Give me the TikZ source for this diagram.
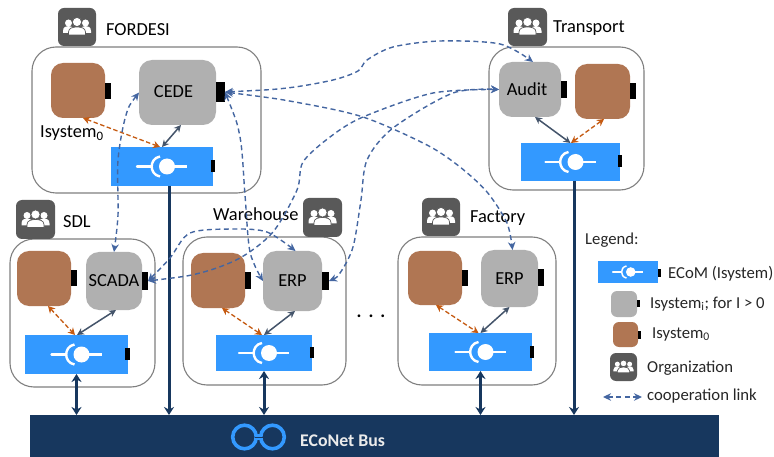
\documentclass[tikz,border=0pt]{standalone}
\usepackage{fontspec}
\setmainfont{Carlito}
\usetikzlibrary{arrows.meta}
\definecolor{brownsys}{HTML}{B07653}
\definecolor{greysys}{HTML}{B0B0B0}
\definecolor{ecomblue}{HTML}{3399FF}
\definecolor{busnavy}{HTML}{17375E}
\definecolor{innerdark}{HTML}{44546A}
\definecolor{orangelink}{HTML}{C55A11}
\definecolor{cooplink}{HTML}{2F5597}
\definecolor{orggrey}{HTML}{595959}
\definecolor{orgline}{HTML}{7F7F7F}
\newcommand{\mainsize}{\fontsize{18.4}{20}\selectfont}
\newcommand{\legsize}{\fontsize{16.7}{18}\selectfont}
\newcommand{\placebox}[7]{%
  \pgfmathsetmacro{\cxv}{(#3+#5)/2}\pgfmathsetmacro{\cyv}{(#4+#6)/2}%
  \pgfmathsetmacro{\wv}{#5-#3}\pgfmathsetmacro{\hv}{#6-#4}%
  \node[#2,minimum width=\wv pt,minimum height=\hv pt] (#1) at (\cxv,\cyv) {#7};}
\tikzset{
  x=1pt,y=-1pt,
  base/.style={inner sep=0pt,outer sep=0pt,font=\mainsize},
  orgbox/.style={base,draw=orgline,line width=1.1pt,rounded corners=24pt,fill=white},
  brownbox/.style={base,fill=brownsys,rounded corners=12pt},
  greybox/.style={base,fill=greysys,rounded corners=13pt},
  ecombox/.style={base,fill=ecomblue},
  portbox/.style={base,fill=black},
  orgicon/.style={base,fill=orggrey,rounded corners=6pt},
  caption/.style={inner sep=0pt,font=\mainsize,anchor=base west},
  legcap/.style={inner sep=0pt,font=\legsize,anchor=base west,text=black!85},
  buslink/.style={line width=3pt,draw=busnavy,{Stealth[length=8pt,width=10pt]}-{Stealth[length=8pt,width=10pt]}},
  busdown/.style={line width=3pt,draw=busnavy,-{Stealth[length=8pt,width=10pt]}},
  innerlink/.style={line width=1.5pt,draw=innerdark,{Stealth[length=7pt,width=7pt]}-{Stealth[length=7pt,width=7pt]}},
  orangedash/.style={line width=1.3pt,draw=orangelink,dash pattern=on 4.5pt off 2.5pt,{Stealth[length=7pt,width=7.5pt]}-{Stealth[length=7pt,width=7.5pt]}},
  cooplnk/.style={line width=1.4pt,draw=cooplink!90!white,dash pattern=on 5pt off 3.5pt,{Stealth[length=8pt,width=7.5pt]}-{Stealth[length=8pt,width=7.5pt]}},
  ecomglyph/.pic={
    \draw[white,line cap=round] (-25,0) -- (-10.3,0);
    \draw[white] (-2,-10) .. controls (-8,-9) and (-10.3,-4) .. (-10.3,0) .. controls (-10.3,4) and (-8,9) .. (-2,10);
    \draw[white] (5,0) -- (25,0);
    \fill[white] (5,0) circle (8);
  },
  peopleglyph/.pic={
    \fill[white] (-8.5,-4) circle (3.5);
    \fill[white] (8.5,-4) circle (3.5);
    \fill[white] (-14,6) -- (-14,4) .. controls (-14,0) and (-11,-1) .. (-8.5,-1) .. controls (-6,-1) and (-3,0) .. (-3,4) -- (-3,6) -- cycle;
    \fill[white] (14,6) -- (14,4) .. controls (14,0) and (11,-1) .. (8.5,-1) .. controls (6,-1) and (3,0) .. (3,4) -- (3,6) -- cycle;
    \draw[orggrey,fill=white,line width=.7pt] (0,-5) circle (4.6);
    \draw[orggrey,fill=white,line width=.7pt] (-8.5,8) -- (-8.5,5) .. controls (-8.5,1) and (-4,0) .. (0,0) .. controls (4,0) and (8.5,1) .. (8.5,5) -- (8.5,8) -- cycle;
  },
}
\begin{document}
\begin{tikzpicture}
\useasboundingbox (0,0) rectangle (774,457);
% bus
\placebox{bus}{base,fill=busnavy}{30}{415}{719}{457}{}
\draw[ecomblue,line width=3.6pt] (244.5,437) circle (11.8) (272.5,437) circle (11.8);
\fill[ecomblue] (255,434) rectangle (262,440);
\draw[busnavy,line width=.8pt] (254.5,437) -- (262.5,437);
\node[inner sep=0pt,anchor=base west,text=white!92!black,font=\fontsize{17.8}{20}\selectfont\bfseries] (busText) at (300,446) {ECoNet Bus};
% organisation boxes
\placebox{fBox}{orgbox}{32}{47}{261}{193}{}
\placebox{sBox}{orgbox}{10}{239}{155}{387}{}
\placebox{wBox}{orgbox}{183}{237}{346}{385}{}
\placebox{xBox}{orgbox}{398}{237}{556}{385}{}
\placebox{tBox}{orgbox}{489}{47}{644}{190}{}
% organisation icons
\placebox{fOrg}{orgicon}{58}{8}{96}{46}{}
\placebox{sOrg}{orgicon}{16}{200}{55}{239}{}
\placebox{wOrg}{orgicon}{303}{198}{342}{237}{}
\placebox{xOrg}{orgicon}{422}{198}{460}{236}{}
\placebox{tOrg}{orgicon}{508}{8}{547}{46}{}
\pic at (fOrg.center) {peopleglyph};
\pic at (sOrg.center) {peopleglyph};
\pic at (wOrg.center) {peopleglyph};
\pic at (xOrg.center) {peopleglyph};
\pic at (tOrg.center) {peopleglyph};
% org captions
\node[caption] (fCap) at (106,36) {FORDESI};
\node[caption] (sCap) at (63,228) {SDL};
\node[caption] (wCap) at (213,221) {Warehouse};
\node[caption] (xCap) at (470,223) {Factory};
\node[caption] (tCap) at (553,33) {Transport};
\node[caption] (isysCap) at (40,138) {Isystem\textsubscript{0}};
\node[inner sep=0pt,font=\mainsize\bfseries,anchor=base] (dotsCap) at (371,317) {.\hspace{7pt}.\hspace{7pt}.};
% FORDESI
\placebox{fBrown}{brownbox}{51}{63}{105}{118}{}
\placebox{fBrownP}{portbox}{105}{83}{111}{99}{}
\placebox{fCede}{greybox}{139}{60}{216}{125}{\raisebox{1.5pt}{CEDE\hspace{8pt}}}
\placebox{fCedeP}{portbox}{216}{82}{225}{102}{}
\placebox{fEcom}{ecombox}{111}{147}{213}{186}{}
\placebox{fEcomP}{portbox}{211}{160}{215}{172}{}
\pic[line width=2.4pt] at (fEcom.center) {ecomglyph};
% SDL
\placebox{sBrown}{brownbox}{17}{251}{71}{306}{}
\placebox{sBrownP}{portbox}{71}{270}{77}{286}{}
\placebox{sScada}{greybox}{86}{252}{142}{310}{\raisebox{1pt}{SCADA}}
\placebox{sScadaP}{portbox}{142}{272}{148}{290}{}
\placebox{sEcom}{ecombox}{25}{335}{128}{374}{}
\placebox{sEcomP}{portbox}{125}{348}{130}{360}{}
\pic[line width=2.4pt] at (sEcom.center) {ecomglyph};
% Warehouse
\placebox{wBrown}{brownbox}{191}{253}{245}{308}{}
\placebox{wBrownP}{portbox}{245}{272}{251}{289}{}
\placebox{wErp}{greybox}{263}{251}{322}{311}{ERP}
\placebox{wErpP}{portbox}{322}{272}{329}{290}{}
\placebox{wEcom}{ecombox}{216}{335}{312}{371}{}
\placebox{wEcomP}{portbox}{310}{347}{314}{358}{}
\pic[line width=2.4pt] at (wEcom.center) {ecomglyph};
% Factory
\placebox{xBrown}{brownbox}{408}{251}{462}{305}{}
\placebox{xBrownP}{portbox}{462}{270}{468}{286}{}
\placebox{xErp}{greybox}{481}{250}{538}{307}{ERP\hspace{11pt}}
\placebox{xErpP}{portbox}{538}{269}{544}{286}{}
\placebox{xEcom}{ecombox}{429}{333}{532}{371}{}
\placebox{xEcomP}{portbox}{530}{346}{534}{358}{}
\pic[line width=2.4pt] at (xEcom.center) {ecomglyph};
% Transport
\placebox{tAudit}{greybox}{499}{62}{561}{117}{\raisebox{1pt}{Audit\hspace{6pt}}}
\placebox{tAuditP}{portbox}{561}{81}{567}{98}{}
\placebox{tBrown}{brownbox}{575}{64}{630}{119}{}
\placebox{tBrownP}{portbox}{630}{83}{636}{99}{}
\placebox{tEcom}{ecombox}{521}{143}{620}{181}{}
\placebox{tEcomP}{portbox}{618}{155}{622}{167}{}
\pic[line width=2.4pt] at (tEcom.center) {ecomglyph};
% links to bus
\draw[buslink] (sEcom.south) -- (sEcom.south |- bus.north);
\draw[buslink] (wEcom.south) -- (wEcom.south |- bus.north);
\draw[buslink] (xEcom.south) -- (xEcom.south |- bus.north);
\draw[busdown] ([xshift=7pt]fEcom.south) -- ([xshift=7pt]fEcom.south |- bus.north);
\draw[busdown] ([xshift=3.5pt]tEcom.south) -- ([xshift=3.5pt]tEcom.south |- bus.north);
% inner links
\draw[innerlink] ([xshift=3.5pt]fCede.south) -- (fEcom.north);
\draw[orangedash] ([xshift=5pt]fBrown.south) -- ([xshift=-2pt]fEcom.north);
\draw[innerlink] ([xshift=2pt]sScada.south) -- ([xshift=.5pt]sEcom.north);
\draw[orangedash] ([xshift=4pt]sBrown.south) -- ([xshift=-1.5pt]sEcom.north);
\draw[innerlink] ([xshift=2.5pt]wErp.south) -- (wEcom.north);
\draw[orangedash] ([xshift=4pt]wBrown.south) -- ([xshift=-2pt]wEcom.north);
\draw[innerlink] (xErp.south) -- (xEcom.north);
\draw[orangedash] ([xshift=1pt]xBrown.south) -- ([xshift=-2pt]xEcom.north);
\draw[innerlink] ([xshift=5pt]tAudit.south) -- (tEcom.north);
\draw[orangedash] ([xshift=1.5pt]tBrown.south) -- ([xshift=.5pt]tEcom.north);
% cooperation links
\draw[cooplnk] plot[smooth,tension=.5] coordinates {(fCede.west) (126,115) (118,160) (118,215) (sScada.north)};
\draw[cooplnk] plot[smooth,tension=.5] coordinates {(fCedeP.east) (240,137) (245,195) (250,252) (wErp.west)};
\draw[cooplnk] plot[smooth,tension=.5] coordinates {(fCedeP.east) (287,88) (333,80) (358,71) (367,60) (393,47) (440,41) (500,44) ([xshift=3pt]tAudit.north)};
\draw[cooplnk] plot[smooth,tension=.5] coordinates {(fCedeP.east) (295,102) (363,117) (427,145) (460,167) (487,192) (507,223) ([xshift=3pt]xErp.north)};
\draw[cooplnk] plot[smooth,tension=.5] coordinates {(sScadaP.east) (200,273) (240,258) (273,232) (297,190) (303,162) (330,137) (363,117) (433,93) (tAudit.west)};
\draw[cooplnk] plot[smooth,tension=.5] coordinates {(wErpP.east) (340,273) (353,247) (361,200) (367,160) (393,128) (453,93) (tAudit.west)};
\draw[cooplnk] plot[smooth,tension=.5] coordinates {(sScadaP.east) (170,258) (190,233) (233,229) (267,232) ([xshift=3pt]wErp.north)};
% legend
\node[legcap] (legTitle) at (585,245) {Legend:};
\placebox{lEcom}{ecombox}{597.5}{261}{658}{283}{}
\placebox{lEcomP}{portbox}{658}{269}{661}{277}{}
\pic[scale=.6,line width=1.5pt] at (lEcom.center) {ecomglyph};
\node[legcap] (lEcomT) at (668,278) {ECoM (Isystem)};
\placebox{lGrey}{greybox,rounded corners=6pt}{611}{291}{637}{317}{}
\placebox{lGreyP}{portbox}{637}{300}{640}{307}{}
\node[legcap] (lGreyT) at (650,308) {Isystem\textsubscript{i}; for I > 0};
\placebox{lBrown}{brownbox,rounded corners=6pt}{613}{322}{638}{347}{}
\placebox{lBrownP}{portbox}{638}{331}{641}{339}{}
\node[legcap] (lBrownT) at (652,338) {Isystem\textsubscript{0}};
\placebox{lOrg}{orgicon}{610}{353}{637}{381}{}
\pic[scale=.72] at (lOrg.center) {peopleglyph};
\node[legcap] (lOrgT) at (647,372) {Organization};
\node[legcap] (lLinkT) at (647,400) {cooperation link};
\coordinate (lLinkA) at (603,397);
\coordinate (lLinkB) at (642,397);
\draw[cooplnk] (lLinkA) -- (lLinkB);
\end{tikzpicture}
\end{document}
